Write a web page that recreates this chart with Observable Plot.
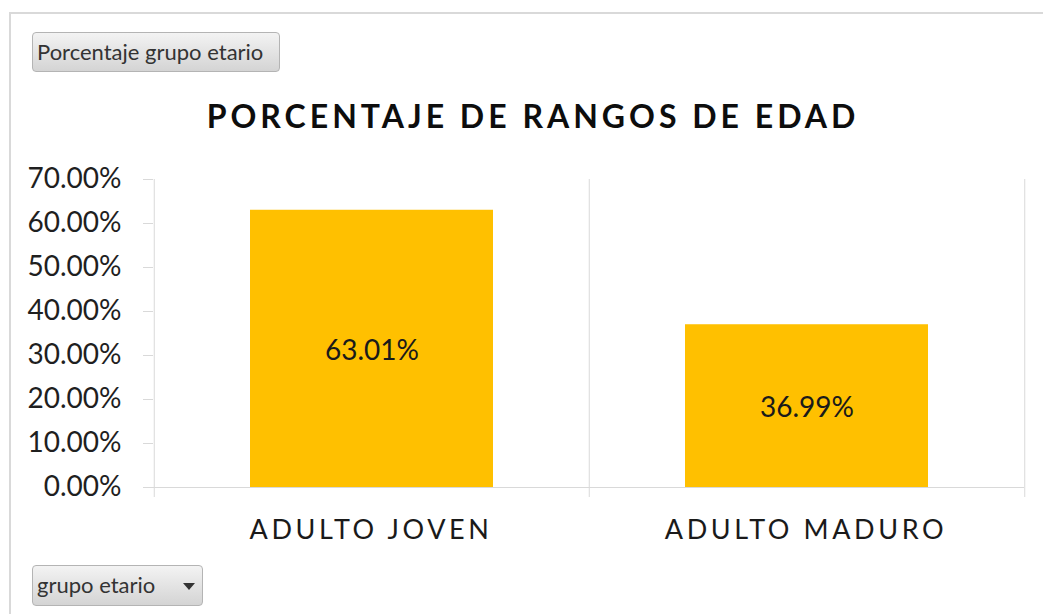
<!DOCTYPE html>
<html>
<head>
<meta charset="utf-8">
<script src="https://cdn.jsdelivr.net/npm/d3@7"></script>
<script src="https://cdn.jsdelivr.net/npm/@observablehq/plot@0.6"></script>
<style>
  body { margin: 0; background: #fff; font-family: Lato, sans-serif; }
  #wrap { position: relative; width: 1043px; height: 614px; overflow: hidden; background: #fff; }
  #frame { position: absolute; left: 9px; top: 12px; right: -4px; bottom: -4px;
           border-top: 2px solid #d9d9d9; border-left: 2px solid #d9d9d9; }
  .btn { position: absolute; box-sizing: border-box; border: 1px solid #b4b4b4; border-radius: 4px;
         background: linear-gradient(#f3f3f3, #d4d4d4); color: #333;
         font-family: Lato, sans-serif; font-size: 22px; line-height: 38px; padding-left: 4px; white-space: nowrap; }
  #b1 { left: 32px; top: 32px; width: 248px; height: 40px; }
  #b2 { left: 32px; top: 565px; width: 171px; height: 41px; }
  #arrow { position: absolute; left: 150px; top: 17px; width: 0; height: 0;
           border-left: 6px solid transparent; border-right: 6px solid transparent; border-top: 7px solid #333; }
  #title { position: absolute; left: 0; width: 1066px; top: 100px; text-align: center;
           font-family: Lato, sans-serif; font-weight: 700; font-size: 32px; line-height: 32px;
           letter-spacing: 4px; color: #0d0d0d; white-space: nowrap; }
  #chart { position: absolute; left: 0; top: 160px; }
  g[aria-label="x-axis tick label"] text { letter-spacing: 3.6px; }
</style>
</head>
<body>
<div id="wrap">
  <div id="frame"></div>
  <div class="btn" id="b1">Porcentaje grupo etario</div>
  <div id="title">PORCENTAJE DE RANGOS DE EDAD</div>
  <div id="chart"></div>
  <div class="btn" id="b2">grupo etario<div id="arrow"></div></div>
</div>
<script>
const categories = ["ADULTO JOVEN", "ADULTO MADURO"];
const values = [0.6301, 0.3699];
const yTicks = [0, 0.1, 0.2, 0.3, 0.4, 0.5, 0.6, 0.7];

const data = categories.map((c, i) => ({cat: c, value: values[i]}));
const W = 1043, H = 400, mL = 153, mR = 19, mT = 19, mB = 73;
const yMax = 0.7;
const step = (W - mL - mR) / categories.length;
const tickLen = 10;
const below = -tickLen * yMax / (H - mT - mB); // rule extension under the baseline, in data units
const pct = d3.format(".2%");
const grid = "#d9d9d9";

const plot = Plot.plot({
  width: W, height: H,
  marginTop: mT, marginBottom: mB, marginLeft: mL, marginRight: mR,
  style: {fontFamily: "Lato, sans-serif", background: "transparent", color: "#1a1a1a", overflow: "visible"},
  x: {domain: categories, paddingInner: 0.442, paddingOuter: 0.221, label: null},
  y: {domain: [0, yMax], label: null},
  marks: [
    Plot.ruleX(categories, {x: d => d, dx: -step / 2, y1: below, y2: yMax, stroke: grid}),
    Plot.ruleX(categories.slice(-1), {x: d => d, dx: step / 2, y1: below, y2: yMax, stroke: grid}),
    Plot.ruleY([0], {stroke: grid, insetLeft: -tickLen}),
    Plot.barY(data, {x: "cat", y: "value", fill: "#FFC000"}),
    Plot.text(data, {x: "cat", y: d => d.value / 2, text: d => pct(d.value), fontSize: 28, dy: 2, fill: "#1a1a1a"}),
    Plot.axisY({ticks: yTicks, tickFormat: pct, tickSize: tickLen, tickPadding: 22, fontSize: 28, stroke: grid, fill: "#1f1f1f"}),
    Plot.axisX({tickSize: 0, tickPadding: 32, fontSize: 27, fill: "#1a1a1a", dx: -1})
  ]
});
document.getElementById("chart").appendChild(plot);
</script>
</body>
</html>
